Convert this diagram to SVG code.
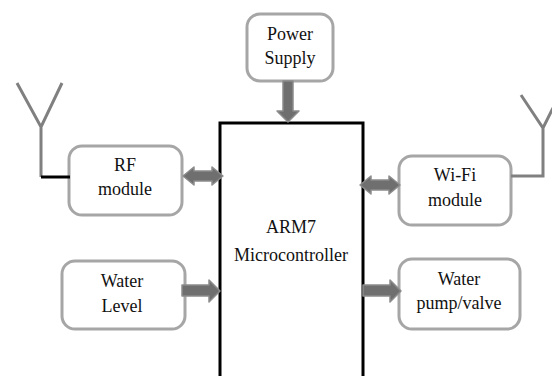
<svg xmlns="http://www.w3.org/2000/svg" width="552" height="376" viewBox="0 0 552 376">
<defs><style>
.box{fill:#fff;stroke:#a6a6a6;stroke-width:3}
.mcu{fill:#fff;stroke:#000;stroke-width:3}
text{font-family:"Liberation Serif","Times New Roman",serif;font-size:18px;fill:#111;text-anchor:middle}
.arrow{fill:#6f6f6f;stroke:#8c8c8c;stroke-width:1.5;stroke-linejoin:round}
.ant{fill:none;stroke:#808080;stroke-width:3}
</style></defs>
<rect width="552" height="376" fill="#fff"/>
<g id="mcu"><path class="mcu" d="M220 377V123H363V377"/><text x="291" y="233">ARM7</text><text x="291" y="261">Microcontroller</text></g>
<g id="power"><rect class="box" x="247" y="14" width="86" height="67" rx="13"/><text x="290" y="40">Power</text><text x="290" y="64">Supply</text></g>
<g id="rf"><rect class="box" x="69" y="146" width="113" height="69" rx="13"/><text x="125" y="171">RF</text><text x="125" y="195">module</text></g>
<g id="wifi"><rect class="box" x="399" y="156" width="112" height="69" rx="13"/><text x="455" y="181">Wi-Fi</text><text x="455" y="206">module</text></g>
<g id="level"><rect class="box" x="62" y="261" width="123" height="68" rx="13"/><text x="122" y="287">Water</text><text x="122" y="312">Level</text></g>
<g id="pump"><rect class="box" x="399" y="259" width="121" height="70" rx="13"/><text x="459" y="285">Water</text><text x="459" y="309">pump/valve</text></g>
<g id="rf-antenna"><path class="ant" d="M17 83L41 127L62 83M41 127V177"/><path d="M41 177H70" fill="none" stroke="#000" stroke-width="3"/></g>
<g id="wifi-antenna"><path class="ant" d="M521 95L543 128L553 108M543 128V176H511"/></g>
<g id="connectors">
<path class="arrow" d="M283 81H293V111H299L288 122L277 111H283Z"/>
<path class="arrow" d="M183 176L194 167V171H212V167L223 176L212 185V181H194V185Z"/>
<path class="arrow" d="M360 185L371 176V180H389V176L400 185L389 194V190H371V194Z"/>
<path class="arrow" d="M182 285H209V280L220 291L209 302V296H182Z"/>
<path class="arrow" d="M363 285H390V280L401 291L390 302V296H363Z"/>
</g>
</svg>
